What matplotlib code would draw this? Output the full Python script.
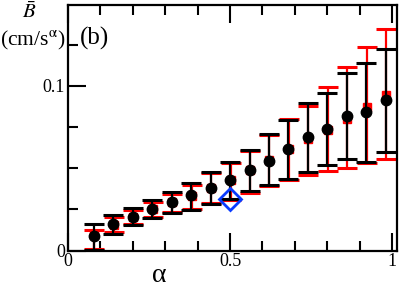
import matplotlib
matplotlib.use("Agg")
import matplotlib.pyplot as plt
from matplotlib.ticker import MultipleLocator, FuncFormatter
import numpy as np

plt.rcParams['font.family'] = ['Liberation Serif', 'DejaVu Serif']
plt.rcParams['mathtext.fontset'] = 'stix'

alpha = [0.08, 0.14, 0.20, 0.26, 0.32, 0.38, 0.44, 0.50,
         0.56, 0.62, 0.68, 0.74, 0.80, 0.86, 0.92, 0.98]

# black series: mean, lower end, upper end of the bar
b_mean = [0.0091, 0.0159, 0.0206, 0.0255, 0.0295, 0.0335, 0.0380, 0.0430,
          0.0490, 0.0547, 0.0618, 0.0687, 0.0737, 0.0820, 0.0840, 0.0915]
b_low = [0.0005, 0.0103, 0.0156, 0.0196, 0.0228, 0.0248, 0.0285, 0.0315,
         0.0360, 0.0396, 0.0434, 0.0477, 0.0517, 0.0558, 0.0540, 0.0596]
b_high = [0.0164, 0.0218, 0.0260, 0.0309, 0.0356, 0.0410, 0.0475, 0.0540,
          0.0612, 0.0707, 0.0794, 0.0895, 0.0956, 0.1080, 0.1141, 0.1224]

# red series
r_mean = [0.0095, 0.0157, 0.0204, 0.0252, 0.0292, 0.0332, 0.0378, 0.0430,
          0.0490, 0.0550, 0.0620, 0.0680, 0.0735, 0.0800, 0.0873, 0.0945]
r_low = [0.0012, 0.0115, 0.0164, 0.0202, 0.0232, 0.0252, 0.0290, 0.0310,
         0.0350, 0.0390, 0.0430, 0.0462, 0.0485, 0.0500, 0.0530, 0.0558]
r_high = [0.0127, 0.0203, 0.0248, 0.0297, 0.0345, 0.0400, 0.0470, 0.0530,
          0.0605, 0.0700, 0.0797, 0.0880, 0.0992, 0.1113, 0.1235, 0.1347]

single_alpha = [0.50]
single_B = [0.0313]

fig = plt.figure(figsize=(3.99, 2.91), dpi=100)
ax = fig.add_axes([0.1704, 0.139, 0.8246, 0.8455])

x = np.array(alpha)
r_err = [np.array(r_mean) - np.array(r_low), np.array(r_high) - np.array(r_mean)]
b_err = [np.array(b_mean) - np.array(b_low), np.array(b_high) - np.array(b_mean)]

ax.errorbar(x + 0.0015, r_mean, yerr=r_err, fmt='s', color='red', ms=6,
            elinewidth=1.6, capsize=7, capthick=2.2, zorder=2)
ax.errorbar(x, b_mean, yerr=b_err, fmt='o', color='black', ms=7.5,
            elinewidth=1.6, capsize=7, capthick=2.2, zorder=3)
ax.plot(single_alpha, single_B, 'D', ms=11, mfc='none', mec='#0a3cff',
        mew=2.0, zorder=4)

ax.set_xlim(0, 1.015)
ax.set_ylim(0, 0.1495)
ax.xaxis.set_major_locator(MultipleLocator(0.5))
ax.xaxis.set_minor_locator(MultipleLocator(0.1))
ax.yaxis.set_major_locator(MultipleLocator(0.1))
ax.yaxis.set_minor_locator(MultipleLocator(0.025))
ax.xaxis.set_major_formatter(FuncFormatter(lambda v, p: f"{v:g}"))
ax.yaxis.set_major_formatter(FuncFormatter(lambda v, p: f"{v:g}"))

ax.tick_params(which='both', direction='in', top=True, right=False,
               width=1.5, labelsize=13, pad=2)
ax.tick_params(which='major', length=13)
ax.tick_params(which='minor', length=7)
for s in ax.spines.values():
    s.set_linewidth(1.6)

# x label sits left of centre in the reference
fig.text(0.40, 0.052, 'α', fontsize=20, ha='center', va='center')
ax.text(0.035, 0.91, '(b)', transform=ax.transAxes, fontsize=18,
        va='top', ha='left')
fig.text(0.074, 0.993, r'$\bar{B}$', fontsize=15, ha='center', va='top')
fig.text(0.082, 0.86, r'(cm/s$^{\mathrm{\alpha}}$)', fontsize=15.5,
         ha='center', va='center')

fig.savefig('out.png', dpi=100)
